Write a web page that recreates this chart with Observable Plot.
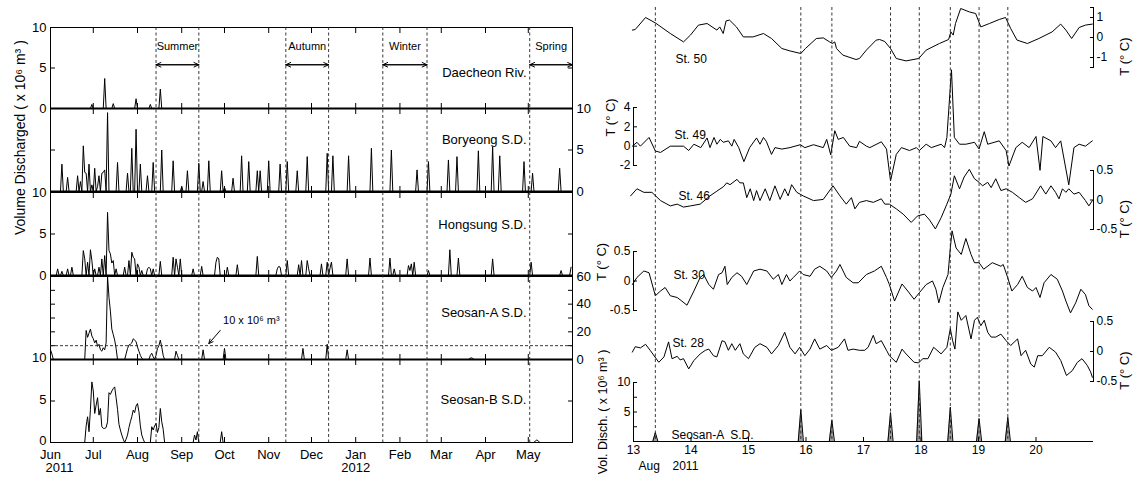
<!DOCTYPE html>
<html><head><meta charset="utf-8">
<script src="https://cdn.jsdelivr.net/npm/d3@7"></script>
<script src="https://cdn.jsdelivr.net/npm/@observablehq/plot@0.6"></script>
<style>
body{margin:0;background:#fff;}
#chart{position:relative;width:1137px;height:482px;overflow:hidden;background:#fff;}
#chart svg{position:absolute;left:0;top:0;}
</style></head><body><div id="chart"></div>
<script>
// ---------------- DATA ----------------
// Left: daily discharge (x10^6 m^3), [day since 2011-06-01, value]; days not listed are 0
const daecheon = [[29,0.5],[38,3.7],[44,0.6],[60,1.2],[70,0.5],[77,2.4]];
const boryeong = [[8,3.3],[12,1.7],[19,1.9],[21,1.2],[23,5.5],[24,2.3],[25,2.2],[27,3.3],[29,0.8],[31,2.8],[33,0.6],[34,1.9],[36,2.2],[37,2.3],[38,2.6],[40,9.5],[47,3.5],[54,2.2],[57,5.2],[60,7.5],[63,3.3],[68,1.9],[72,3.5],[78,5.0],[86,3.7],[92,0.6],[96,2.5],[104,3.4],[107,1.2],[111,3.7],[120,2.5],[122,0.5],[128,1.6],[134,4.3],[139,3.6],[145,2.5],[147,2.5],[153,3.7],[161,3.3],[166,3.6],[173,2.5],[180,4.2],[194,4.6],[198,4.3],[209,4.3],[225,5.2],[239,5.0],[257,2.6],[265,3.6],[279,3.8],[285,4.2],[300,4.9],[310,5.4],[315,4.3],[332,3.6],[338,2.2],[357,2.8]];
const hongsung = [[5,0.8],[8,0.5],[12,0.8],[15,1.0],[23,3.0],[24,2.0],[26,1.6],[28,3.1],[29,1.8],[31,0.8],[34,1.0],[36,2.0],[38,2.4],[40,7.6],[41,3.0],[42,2.6],[43,1.5],[44,1.8],[46,0.8],[52,1.0],[55,1.8],[57,2.8],[58,2.2],[59,2.0],[61,1.4],[62,1.0],[64,0.6],[68,0.8],[69,1.0],[70,0.8],[72,0.8],[77,1.7],[86,2.2],[88,2.0],[89,1.0],[91,2.0],[100,0.8],[106,1.1],[116,1.6],[117,2.2],[118,2.0],[124,1.0],[131,1.3],[145,2.3],[159,0.8],[160,1.1],[161,1.0],[166,1.8],[174,1.3],[176,1.8],[180,1.8],[181,0.8],[190,1.4],[194,1.6],[196,0.9],[197,1.6],[208,2.0],[224,2.1],[238,2.1],[241,0.8],[251,1.2],[252,0.6],[253,1.4],[255,1.6],[265,0.6],[280,3.1],[286,2.1],[310,2.0],[337,1.6],[358,0.6],[365,1.0]];
const seosanA = [[0,7],[1,4],[25,21],[26,16],[27,19],[28,22],[29,17],[30,15],[31,12],[32,14],[33,9.5],[34,11],[35,7],[36,6],[37,8.5],[38,7],[39,12],[40,60],[41,45],[42,35],[43,22],[44,18],[45,14],[46,8],[53,4],[54,8],[55,10.5],[56,11],[57,12],[58,15],[59,14],[60,13],[61,9],[62,6],[63,3],[64,1],[70,3],[71,4.5],[72,2],[74,3],[75,8],[76,10],[77,14],[78,9],[79,3],[88,6],[89,3],[107,7],[122,8],[177,8],[194,11],[208,7],[294,0.8],[295,1.2],[296,0.8]];
const seosanB = [[25,2.0],[26,3.1],[27,1.3],[28,4.0],[29,7.3],[30,6.2],[31,3.5],[32,4.5],[33,5.4],[34,3.3],[35,4.1],[36,1.9],[37,1.7],[38,1.7],[39,1.8],[40,2.5],[41,6.0],[42,5.8],[43,6.2],[44,6.5],[45,6.7],[46,5.4],[47,4.0],[48,2.2],[49,1.5],[50,0.9],[51,0.4],[53,0.4],[54,0.9],[55,1.8],[56,2.5],[57,3.1],[58,3.9],[59,3.6],[60,4.4],[61,4.7],[62,3.7],[63,2.0],[64,0.9],[65,0.4],[71,1.9],[72,1.5],[73,2.0],[74,2.3],[75,1.2],[76,1.8],[77,4.1],[78,2.5],[79,1.6],[101,0.9],[102,0.3],[103,1.3],[120,1.3],[340,0.2],[341,0.3],[342,0.2]];

const monthLabels = ["Jun","Jul","Aug","Sep","Oct","Nov","Dec","Jan","Feb","Mar","Apr","May"];
const seasonNames = ["Summer","Autumn","Winter","Spring"];
const seasonStart = ["2011-08-14","2011-11-13","2012-01-20","2012-05-02"];
const seasonEnd = ["2011-09-13","2011-12-13","2012-02-20","2012-06-01"];
const thresholdValue = 10;
const thresholdLabel = "10 x 10\u2076 m\u00b3";

// Right: temperature anomalies (deg C), [day of Aug 2011, value]
const st50 = [[12.98,0.37],[13.03,0.4],[13.21,1.0],[13.38,0.73],[13.64,0.2],[13.87,-0.22],[13.99,0.12],[14.13,0.62],[14.28,0.7],[14.45,0.37],[14.50,0.53],[14.56,0.2],[14.61,0.83],[14.67,0.87],[14.79,0.53],[14.91,0.03],[15.08,0.03],[15.26,0.2],[15.40,-0.05],[15.58,-0.55],[15.72,-0.67],[15.91,-0.8],[15.99,-0.55],[16.18,-0.05],[16.30,-0.02],[16.41,-0.22],[16.46,-0.3],[16.50,-0.22],[16.53,-0.55],[16.64,-0.88],[16.87,-1.1],[16.93,-1.05],[17.05,-0.63],[17.22,-0.13],[17.28,-0.1],[17.37,-0.2],[17.47,-0.55],[17.57,-1.05],[17.74,-1.17],[17.96,-1.05],[18.09,-0.63],[18.32,-0.3],[18.48,-0.1],[18.52,0.28],[18.56,0.12],[18.60,0.7],[18.69,1.45],[18.84,1.28],[18.95,1.2],[19.04,0.53],[19.19,0.7],[19.36,0.9],[19.47,1.0],[19.56,0.45],[19.67,-0.13],[19.85,-0.3],[20.05,-0.05],[20.28,0.28],[20.43,0.67],[20.52,0.37],[20.62,-0.05],[20.75,0.5],[20.86,0.62],[20.98,0.67]];
const st49 = [[12.98,0],[13.06,0.4],[13.12,0],[13.27,0.9],[13.38,-0.5],[13.47,-0.65],[13.64,0],[13.87,0],[13.96,-0.45],[14.05,0.2],[14.17,-0.15],[14.28,0.85],[14.33,-0.15],[14.40,0.9],[14.45,0.2],[14.51,0.7],[14.56,0.4],[14.65,0.55],[14.71,0],[14.75,0.7],[14.83,-0.15],[14.92,-1.6],[15.02,-0.15],[15.14,0.85],[15.20,0.2],[15.26,0.9],[15.31,0.5],[15.40,-0.85],[15.46,-0.15],[15.58,-0.3],[15.72,-0.15],[15.90,0.15],[15.98,-0.15],[16.13,0.15],[16.30,-0.15],[16.36,0.7],[16.43,-0.9],[16.50,1.6],[16.56,0.7],[16.65,0.9],[16.76,0],[16.88,-0.15],[16.93,0.5],[17.05,0],[17.11,-0.15],[17.31,0.45],[17.40,-0.3],[17.47,-3.6],[17.57,-0.85],[17.66,-0.15],[17.80,-0.45],[17.92,-0.15],[17.97,-0.45],[18.09,0.2],[18.18,-0.15],[18.35,0.2],[18.41,-0.15],[18.45,0.9],[18.53,7.9],[18.58,0.9],[18.67,0.2],[18.78,0.2],[18.93,0.4],[19.01,-0.3],[19.10,1.5],[19.16,0.2],[19.36,0.55],[19.48,-0.45],[19.53,-2.05],[19.65,-0.15],[19.76,0.4],[19.88,-0.15],[20.0,1.0],[20.07,-2.5],[20.12,1.0],[20.26,0.55],[20.34,-0.15],[20.43,0.55],[20.57,-4.0],[20.66,-0.15],[20.75,0.2],[20.86,0],[20.98,0.55]];
const st46 = [[12.95,0.07],[13.06,0.19],[13.18,0.13],[13.32,0.13],[13.47,-0.01],[13.64,-0.1],[13.76,-0.07],[13.87,-0.12],[13.99,-0.1],[14.16,-0.07],[14.33,0.07],[14.45,0.15],[14.57,0.23],[14.62,0.29],[14.68,0.26],[14.80,0.35],[14.85,0.29],[14.91,0.29],[14.97,0.04],[15.03,0.19],[15.09,-0.01],[15.14,0.16],[15.20,-0.01],[15.29,0.19],[15.37,-0.01],[15.46,0.24],[15.55,0.01],[15.63,0.19],[15.69,0.07],[15.75,0.26],[15.84,0.13],[15.95,0.07],[16.13,-0.01],[16.30,0.01],[16.47,0.24],[16.59,0.07],[16.70,-0.07],[16.79,0.04],[16.85,-0.15],[16.93,-0.04],[17.05,-0.01],[17.17,-0.04],[17.31,0.02],[17.37,-0.07],[17.45,-0.07],[17.57,-0.15],[17.69,-0.24],[17.83,-0.38],[17.94,-0.27],[18.06,-0.24],[18.15,-0.34],[18.25,-0.49],[18.35,-0.3],[18.45,-0.07],[18.52,0.1],[18.58,0.41],[18.67,0.19],[18.75,0.39],[18.84,0.52],[18.93,0.36],[19.01,0.3],[19.07,0.24],[19.16,0.3],[19.22,0.21],[19.30,0.36],[19.39,0.16],[19.48,0.19],[19.59,0.13],[19.71,0.04],[19.82,-0.04],[19.94,0.02],[20.08,0.24],[20.17,0.1],[20.26,0.24],[20.34,0.13],[20.40,0.02],[20.46,0.19],[20.52,0.13],[20.57,0.19],[20.66,0.1],[20.75,0.13],[20.86,-0.01],[20.92,-0.1],[20.98,-0.01]];
const st30 = [[12.98,-0.06],[13.06,0.06],[13.18,0.17],[13.27,0.14],[13.38,-0.25],[13.47,-0.17],[13.55,-0.11],[13.64,-0.25],[13.76,-0.28],[13.84,-0.34],[13.93,-0.41],[14.05,-0.17],[14.16,0.06],[14.22,0.11],[14.31,-0.06],[14.39,-0.14],[14.48,0.11],[14.54,0.14],[14.59,0.25],[14.63,-0.06],[14.71,0.06],[14.80,0.14],[14.88,0.08],[14.97,-0.06],[15.09,0.17],[15.20,0.2],[15.32,0.17],[15.43,0.03],[15.52,0.11],[15.58,-0.06],[15.66,0.11],[15.72,0],[15.78,0.06],[15.89,0.17],[15.95,0.11],[16.07,0.08],[16.15,0.2],[16.24,0.25],[16.36,0.17],[16.44,0.06],[16.53,0.17],[16.59,0.28],[16.70,0.06],[16.82,-0.03],[16.91,-0.03],[17.05,0.11],[17.19,0.17],[17.31,0.25],[17.40,0.06],[17.45,-0.06],[17.54,-0.34],[17.67,-0.05],[17.77,-0.17],[17.88,-0.31],[17.97,-0.2],[18.09,-0.06],[18.20,0],[18.26,-0.14],[18.31,-0.37],[18.38,-0.11],[18.47,0.11],[18.51,0.56],[18.54,0.85],[18.61,0.56],[18.70,0.45],[18.78,0.72],[18.87,0.45],[18.93,0.31],[19.01,0.31],[19.09,0.2],[19.24,0.31],[19.39,0.25],[19.43,0.28],[19.50,0.08],[19.58,-0.17],[19.68,-0.06],[19.76,0.08],[19.85,-0.11],[19.94,-0.17],[20.0,-0.11],[20.07,-0.28],[20.14,-0.03],[20.26,0.11],[20.37,0.03],[20.46,-0.17],[20.52,-0.34],[20.60,-0.54],[20.69,-0.37],[20.78,-0.14],[20.86,-0.23],[20.92,-0.42],[20.98,-0.48]];
const st28 = [[12.98,-0.01],[13.03,0.08],[13.12,0.06],[13.21,0.12],[13.29,0.02],[13.44,-0.18],[13.53,-0.09],[13.61,0.16],[13.67,-0.12],[13.76,-0.08],[13.81,-0.14],[13.87,-0.12],[13.96,-0.29],[14.05,-0.15],[14.16,-0.04],[14.25,0.02],[14.31,0.04],[14.39,-0.07],[14.45,-0.09],[14.54,0.18],[14.59,0.16],[14.65,0.02],[14.71,0.13],[14.77,0.02],[14.85,0.13],[14.91,-0.04],[15.0,-0.12],[15.11,0.07],[15.20,0.13],[15.32,0.07],[15.40,-0.04],[15.52,0.1],[15.63,0.32],[15.72,0.07],[15.81,-0.04],[15.89,0.07],[15.98,-0.07],[16.07,0.04],[16.15,0.21],[16.24,0.04],[16.36,0.1],[16.44,0.02],[16.56,0.07],[16.67,0.21],[16.73,0.02],[16.82,0.04],[16.93,0.02],[17.02,0.02],[17.08,0.07],[17.17,0.27],[17.22,0.13],[17.31,0.18],[17.40,0.02],[17.45,-0.07],[17.57,-0.18],[17.67,0.04],[17.74,-0.04],[17.88,-0.18],[17.96,-0.19],[18.03,-0.12],[18.12,-0.12],[18.22,0.07],[18.35,-0.04],[18.45,0.07],[18.51,0.38],[18.55,0.18],[18.59,0.04],[18.64,0.66],[18.70,0.52],[18.78,0.6],[18.87,0.21],[18.93,0.52],[18.98,0.57],[19.04,0.43],[19.10,0.52],[19.16,0.32],[19.22,0.24],[19.30,0.24],[19.39,0.29],[19.48,0.18],[19.56,0.1],[19.68,0.21],[19.74,-0.07],[19.82,0.02],[19.91,-0.21],[19.97,-0.26],[20.03,-0.07],[20.11,-0.07],[20.23,0.07],[20.34,-0.01],[20.43,-0.15],[20.53,-0.4],[20.63,-0.32],[20.72,-0.18],[20.80,-0.12],[20.89,-0.23],[20.95,-0.34],[20.98,-0.43]];

// Seosan-A discharge events (Aug 2011, x10^6 m^3)
const dischargeTime = [13.38, 15.91, 16.45, 17.47, 17.97, 18.51, 19.01, 19.51];
const dischargeVolume = [1.5, 5.4, 3.6, 4.9, 10.3, 5.8, 3.9, 4.1];

// ---------------- LAYOUT ----------------
const W = 1137, H = 482;
const FONT = '"Liberation Sans", Arial, Helvetica, sans-serif';
const STYLE = {fontFamily: FONT, fontSize: "13px", color: "black", background: "transparent", overflow: "visible"};
const START = new Date(Date.UTC(2011, 5, 1)), END = new Date(Date.UTC(2012, 5, 1));
const monthTicks = d3.utcMonth.range(START, END);
const chart = document.getElementById("chart");
function add(svg) { chart.appendChild(svg); }

function daily(events) {
  const m = new Map(events);
  return d3.range(0, 366).map(d => ({date: d3.utcDay.offset(START, d), value: m.has(d) ? m.get(d) : 0}));
}

const seasons = seasonNames.map((n, i) => ({name: n, s: new Date(seasonStart[i]), e: new Date(seasonEnd[i])}));

const leftLayout = [
  {name: "Daecheon Riv.", data: daecheon, top: 27, bottom: 108, domain: [0, 10], ticks: [0, 5, 10], labels: [0, 5, 10], side: "left", thick: true, nameDy: 40, labelDy: 0},
  {name: "Boryeong S.D.", data: boryeong, top: 108, bottom: 191, domain: [0, 10], ticks: [0, 5, 10], labels: [0, 5, 10], side: "right", thick: true, nameDy: 26, labelDy: 0},
  {name: "Hongsung S.D.", data: hongsung, top: 192, bottom: 275, domain: [0, 10], ticks: [0, 5, 10], labels: [0, 5, 10], side: "left", thick: true, nameDy: 27, labelDy: 0},
  {name: "Seosan-A S.D.", data: seosanA, top: 276, bottom: 359, domain: [0, 60], ticks: [0, 10, 20, 30, 40, 50, 60], labels: [0, 20, 40, 60], side: "right", thick: true, nameDy: 31, labelDy: 0},
  {name: "Seosan-B S.D.", data: seosanB, top: 359, bottom: 442, domain: [0, 10], ticks: [0, 5, 10], labels: [0, 5, 10], side: "left", thick: false, nameDy: 35, labelDy: -1.5}
];

function extraMarks(i) {
  if (i === 0) return [
    Plot.arrow(seasons, {x1: "s", x2: "e", y1: 5.4, y2: 5.4, headLength: 8, headAngle: 50, strokeWidth: 1, stroke: "black"}),
    Plot.arrow(seasons, {x1: "e", x2: "s", y1: 5.4, y2: 5.4, headLength: 8, headAngle: 50, strokeWidth: 1, stroke: "black"}),
    Plot.text(seasons, {x: d => new Date((+d.s + +d.e) / 2), y: 7.6, text: "name", fontSize: 11})
  ];
  if (i === 3) return [
    Plot.ruleY([thresholdValue], {strokeDasharray: "3,2", strokeWidth: 0.9, stroke: "#222"}),
    Plot.text([thresholdLabel], {x: () => new Date("2011-09-30"), y: 28, text: d => d, textAnchor: "start", fontSize: 11}),
    Plot.arrow([0], {x1: () => new Date("2011-09-28"), y1: 21, x2: () => new Date("2011-09-20"), y2: 11.5, headLength: 7, headAngle: 50, strokeWidth: 1, stroke: "black"})
  ];
  if (i === 4) return [
    Plot.axisX(monthTicks, {anchor: "bottom", tickSize: 0, tickPadding: 7, label: null, fontSize: 13, tickFormat: d => monthLabels[(d.getUTCMonth() + 7) % 12]}),
    Plot.text(["2011"], {x: () => START, frameAnchor: "bottom", dy: 29, dx: -5, textAnchor: "start", text: d => d, fontSize: 13}),
    Plot.text(["2012"], {x: () => new Date("2012-01-01"), frameAnchor: "bottom", dy: 29, text: d => d, fontSize: 13})
  ];
  return [];
}

leftLayout.forEach((p, i) => {
  add(Plot.plot({
    width: W, height: H,
    marginLeft: 50, marginRight: W - 572, marginTop: p.top, marginBottom: H - p.bottom,
    x: {type: "utc", domain: [START, END]},
    y: {domain: p.domain},
    style: STYLE,
    marks: [
      Plot.frame({stroke: "black", strokeWidth: 1}),
      Plot.axisY(p.ticks, {anchor: "left", tickSize: 5, dx: 5, fill: "none", label: null}),
      Plot.axisY(p.ticks, {anchor: "right", tickSize: 5, dx: -5, fill: "none", label: null}),
      Plot.axisY(p.labels, {anchor: p.side, tickSize: 0, tickPadding: 4, dy: p.labelDy, label: null, fontSize: 13, tickFormat: d => String(d)}),
      Plot.axisX(monthTicks, {anchor: "top", tickSize: 5, dy: 5, fill: "none", label: null}),
      Plot.axisX(monthTicks, {anchor: "bottom", tickSize: 5, dy: -5, fill: "none", label: null}),
      p.thick ? Plot.ruleY([0], {strokeWidth: 2.2, stroke: "black"}) : null,
      Plot.line(daily(p.data), {x: "date", y: "value", stroke: "black", strokeWidth: 1}),
      Plot.text([p.name], {text: d => d, frameAnchor: "top-right", dx: -46, dy: p.nameDy, textAnchor: "end", fontSize: 13}),
      ...extraMarks(i)
    ]
  }));
});

// left overlay: season boundaries + y title
add(Plot.plot({
  width: W, height: H,
  marginLeft: 50, marginRight: W - 572, marginTop: 27, marginBottom: H - 442,
  x: {type: "utc", domain: [START, END], axis: null},
  style: STYLE,
  marks: [
    Plot.ruleX(seasons.flatMap(d => d.e < END ? [d.s, d.e] : [d.s]), {strokeDasharray: "3,2.5", strokeWidth: 0.9, stroke: "#222"}),
    Plot.text(["Volume Discharged ( x 10\u2076 m\u00b3 )"], {text: d => d, frameAnchor: "left", dx: -30, rotate: -90, fontSize: 14})
  ]
}));

// ---------------- RIGHT ----------------
const rightLayout = [
  {name: "St. 50", data: st50, top: 7, bottom: 67, domain: [-1.5, 1.5], ticks: [-1.5, -1, 0, 1, 1.5], labels: [-1, 0, 1], side: "right", nameDx: 42, nameDy: 47, titleDx: 31},
  {name: "St. 49", data: st49, top: 107, bottom: 165, domain: [-2, 4], ticks: [-2, 0, 2, 4], labels: [-2, 0, 2, 4], side: "left", nameDx: 41, nameDy: 23, titleDx: -23},
  {name: "St. 46", data: st46, top: 170, bottom: 229, domain: [-0.5, 0.5], ticks: [-0.5, 0, 0.5], labels: [-0.5, 0, 0.5], side: "right", nameDx: 45, nameDy: 21, titleDx: 31},
  {name: "St. 30", data: st30, top: 251, bottom: 310, domain: [-0.5, 0.5], ticks: [-0.5, 0, 0.5], labels: [-0.5, 0, 0.5], side: "left", nameDx: 40, nameDy: 19, titleDx: -32},
  {name: "St. 28", data: st28, top: 321, bottom: 381, domain: [-0.5, 0.5], ticks: [-0.5, 0, 0.5], labels: [-0.5, 0, 0.5], side: "right", nameDx: 39, nameDy: 17, titleDx: 31}
];

rightLayout.forEach(p => {
  add(Plot.plot({
    width: W, height: H,
    marginLeft: 633, marginRight: W - 1093, marginTop: p.top, marginBottom: H - p.bottom,
    x: {domain: [13, 21], axis: null},
    y: {domain: p.domain},
    style: STYLE,
    marks: [
      Plot.ruleX([p.side === "left" ? 13 : 21], {stroke: "black"}),
      Plot.axisY(p.ticks, {anchor: p.side, tickSize: 4, dx: p.side === "left" ? 4 : -4, fill: "none", label: null}),
      Plot.axisY(p.labels, {anchor: p.side, tickSize: 0, tickPadding: 3, label: null, fontSize: 12, tickFormat: d => String(d)}),
      Plot.line(p.data, {x: d => d[0], y: d => d[1], stroke: "black", strokeWidth: 1}),
      Plot.text([p.name], {text: d => d, frameAnchor: "top-left", dx: p.nameDx, dy: p.nameDy, textAnchor: "start", fontSize: 12}),
      Plot.text(["T (\u00b0 C)"], {text: d => d, frameAnchor: p.side, dx: p.titleDx, rotate: -90, fontSize: 13})
    ]
  }));
});

// discharge panel
const spikes = dischargeTime.flatMap((t, i) => [
  {t: t - 0.045, v: 0, i}, {t: t, v: dischargeVolume[i], i}, {t: t + 0.045, v: 0, i}
]);
const dayTicks = d3.range(13, 21);
add(Plot.plot({
  width: W, height: H,
  marginLeft: 633, marginRight: W - 1093, marginTop: 382, marginBottom: H - 441,
  x: {domain: [13, 21]},
  y: {domain: [0, 10]},
  style: STYLE,
  marks: [
    Plot.areaY(spikes, {x: "t", y: "v", z: "i", fill: "#a0a0a0"}),
    Plot.line(spikes, {x: "t", y: "v", z: "i", stroke: "black", strokeWidth: 1}),
    Plot.ruleX([13], {stroke: "black"}),
    Plot.ruleY([0], {stroke: "black"}),
    Plot.axisY([2.5, 5, 7.5, 10], {anchor: "left", tickSize: 4, dx: 4, fill: "none", label: null}),
    Plot.axisY([5, 10], {anchor: "left", tickSize: 0, tickPadding: 3, label: null, fontSize: 12, tickFormat: d => String(d)}),
    Plot.axisX(dayTicks, {anchor: "bottom", tickSize: 4, dy: -4, fill: "none", label: null}),
    Plot.axisX(dayTicks, {anchor: "bottom", tickSize: 0, tickPadding: 4, label: null, fontSize: 12, tickFormat: d => String(d)}),
    Plot.text(["Aug"], {text: d => d, frameAnchor: "bottom-left", dx: 5, dy: 28, fontSize: 12}),
    Plot.text(["2011"], {text: d => d, frameAnchor: "bottom-left", dx: 39, dy: 28, fontSize: 12}),
    Plot.text(["Seosan-A  S.D."], {text: d => d, frameAnchor: "top-left", dx: 38, dy: 48, textAnchor: "start", fontSize: 12}),
    Plot.text(["Vol. Disch. ( x 10\u2076 m\u00b3 )"], {text: d => d, x: () => 13, y: () => 5, dx: -31, rotate: -90, fontSize: 12.5})
  ]
}));

// right overlay: discharge event lines
add(Plot.plot({
  width: W, height: H,
  marginLeft: 633, marginRight: W - 1093, marginTop: 7, marginBottom: H - 441,
  x: {domain: [13, 21], axis: null},
  style: STYLE,
  marks: [
    Plot.ruleX(dischargeTime, {strokeDasharray: "3,2.5", strokeWidth: 0.9, stroke: "#222"})
  ]
}));
</script>
</body></html>
